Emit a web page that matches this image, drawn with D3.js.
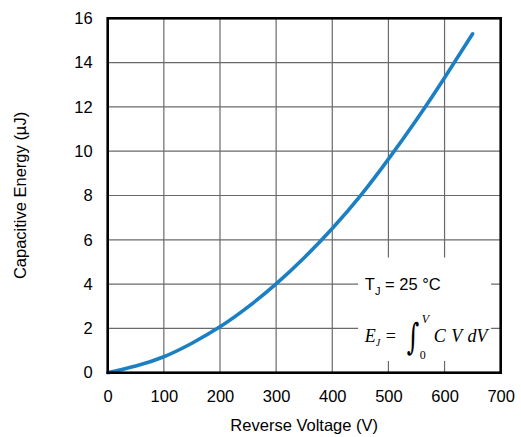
<!DOCTYPE html>
<html>
<head>
<meta charset="utf-8">
<script src="https://cdnjs.cloudflare.com/ajax/libs/d3/7.8.5/d3.min.js"></script>
<style>
  body { margin: 0; background: #fff; }
  text { font-family: "Liberation Sans", Arial, sans-serif; fill: #000; }
  .math { font-family: "Liberation Serif", "DejaVu Serif", serif; font-style: italic; }
</style>
</head>
<body>
<div class="chart"></div>
<script>
// Data
var voltage = [0, 50, 100, 150, 200, 250, 300, 350, 400, 450, 500, 550, 600, 650];
var energy = [0, 0.3, 0.72, 1.33, 2.07, 2.97, 4.01, 5.19, 6.51, 7.98, 9.64, 11.42, 13.32, 15.3];
var xTicks = [0, 100, 200, 300, 400, 500, 600, 700];
var yTicks = [0, 2, 4, 6, 8, 10, 12, 14, 16];

var svgWidth = 521;
var svgHeight = 437;
var margin = { top: 18.3, right: 20.3, bottom: 64.3, left: 107.7 };
var width = svgWidth - margin.left - margin.right;
var height = svgHeight - margin.top - margin.bottom;

var svg = d3.select(".chart")
  .append("svg")
  .attr("width", svgWidth)
  .attr("height", svgHeight);

var chartGroup = svg.append("g")
  .attr("transform", `translate(${margin.left}, ${margin.top})`);

var x = d3.scaleLinear().domain([0, 700]).range([0, width]);
var y = d3.scaleLinear().domain([0, 16]).range([height, 0]);

// grid
chartGroup.append("g")
  .selectAll("line")
  .data(xTicks.slice(1, -1))
  .enter()
  .append("line")
  .attr("x1", d => x(d)).attr("x2", d => x(d))
  .attr("y1", 0).attr("y2", height)
  .attr("stroke", "#6a6a6a")
  .attr("stroke-width", 1.2);

chartGroup.append("g")
  .selectAll("line")
  .data(yTicks.slice(1, -1))
  .enter()
  .append("line")
  .attr("x1", 0).attr("x2", width)
  .attr("y1", d => y(d)).attr("y2", d => y(d))
  .attr("stroke", "#6a6a6a")
  .attr("stroke-width", 1.2);

// axes (labels only)
var bottomAxis = d3.axisBottom(x).tickValues(xTicks).tickSize(0).tickPadding(18);
var leftAxis = d3.axisLeft(y).tickValues(yTicks).tickSize(0).tickPadding(15);

var gx = chartGroup.append("g")
  .attr("transform", `translate(0, ${height})`)
  .call(bottomAxis);
var gy = chartGroup.append("g").call(leftAxis);
[gx, gy].forEach(function(g) {
  g.select(".domain").remove();
  g.selectAll("text")
    .style("font-family", "'Liberation Sans', Arial, sans-serif")
    .style("font-size", "16.5px")
    .attr("fill", "#000");
});

// annotation box (white background hides grid)
chartGroup.append("rect")
  .attr("x", x(446))
  .attr("y", y(5.2))
  .attr("width", x(683) - x(446))
  .attr("height", y(0.53) - y(5.2))
  .attr("fill", "#fff");

// curve
var line = d3.line()
  .x((d, i) => x(voltage[i]))
  .y(d => y(d))
  .curve(d3.curveNatural);

chartGroup.append("path")
  .datum(energy)
  .attr("d", line)
  .attr("fill", "none")
  .attr("stroke", "#1b7fc4")
  .attr("stroke-width", 3.6)
  .attr("stroke-linecap", "round");

// frame
chartGroup.append("rect")
  .attr("x", 0).attr("y", 0)
  .attr("width", width).attr("height", height)
  .attr("fill", "none")
  .attr("stroke", "#000")
  .attr("stroke-width", 2.6);

// annotation text
var tj = chartGroup.append("text")
  .attr("x", x(458))
  .attr("y", y(4.0) + 6)
  .style("font-size", "16.5px");
tj.append("tspan").text("T");
tj.append("tspan").attr("dy", 5).style("font-size", "11px").text("J");
tj.append("tspan").attr("dy", -5).text(" = 25 °C");

var eq = chartGroup.append("g")
  .attr("transform", `translate(${x(458)}, ${y(1.45) + 1})`);
eq.append("text").attr("class", "math").attr("x", 0).attr("y", 0)
  .style("font-size", "18px").text("E");
eq.append("text").attr("class", "math").attr("x", 11).attr("y", 4)
  .style("font-size", "10px").text("J");
eq.append("text").attr("x", 21).attr("y", 0)
  .style("font-family", "'Liberation Serif', serif").style("font-size", "18px").text("=");
eq.append("text")
  .attr("transform", "translate(42, 7) scale(1, 1.5)")
  .style("font-family", "'DejaVu Serif', serif").style("font-style", "italic")
  .style("font-size", "24px").text("∫");
eq.append("text").attr("class", "math").attr("x", 57).attr("y", -19)
  .style("font-size", "12px").text("V");
eq.append("text").attr("x", 55).attr("y", 17)
  .style("font-family", "'Liberation Serif', serif").style("font-size", "12px").text("0");
eq.append("text").attr("class", "math").attr("x", 69).attr("y", 0)
  .style("font-size", "18px").text("C V dV")
  .style("word-spacing", "1px");

// axis labels
chartGroup.append("text")
  .attr("transform", `translate(${-margin.left + 26}, ${height / 2}) rotate(-90)`)
  .attr("text-anchor", "middle")
  .style("font-size", "16.5px")
  .text("Capacitive Energy (µJ)");

chartGroup.append("text")
  .attr("x", width / 2)
  .attr("y", height + 58)
  .attr("text-anchor", "middle")
  .style("font-size", "16.5px")
  .text("Reverse Voltage (V)");
</script>
</body>
</html>
